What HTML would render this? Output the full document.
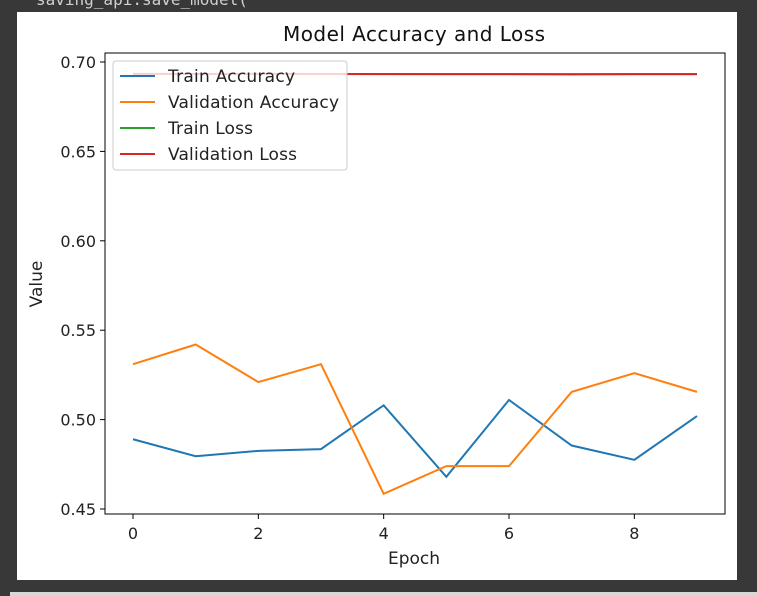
<!DOCTYPE html>
<html><head><meta charset="utf-8"><style>
body{margin:0;background:#383838;width:757px;height:596px;overflow:hidden;position:relative;font-family:"DejaVu Sans","Liberation Sans",sans-serif}
#code{position:absolute;left:36px;top:-10px;color:#cfcfcf;font:16px "DejaVu Sans Mono","Liberation Mono",monospace}
#card{position:absolute;left:17px;top:12px;width:720px;height:568px;background:#fff}
#strip{position:absolute;left:10px;top:592px;width:747px;height:4px;background:#d8d8d8}
</style></head><body>
<div id="code">saving_api.save_model(</div>
<div id="card"></div>
<div id="strip"></div>
<svg id="chart" width="757" height="596" style="position:absolute;left:0;top:0"></svg>
<script>
const epochs=[0,1,2,3,4,5,6,7,8,9];
const trainAcc=[0.489,0.4795,0.4825,0.4835,0.508,0.468,0.511,0.4855,0.4775,0.502];
const valAcc=[0.531,0.542,0.521,0.531,0.4585,0.474,0.474,0.5155,0.526,0.5155];
const trainLoss=[0.6934,0.6933,0.6934,0.6933,0.6933,0.6932,0.6932,0.6932,0.6932,0.6932];
const valLoss=[0.6933,0.6933,0.6933,0.6933,0.6932,0.6932,0.6932,0.6931,0.6932,0.6932];
const yTicks=[0.45,0.50,0.55,0.60,0.65,0.70];
const yTickLabels=["0.45","0.50","0.55","0.60","0.65","0.70"];
const xTicks=[0,2,4,6,8];
const NS="http://www.w3.org/2000/svg";
const svg=document.getElementById('chart');
const L=105,R=725,T=53,B=514;
const X=v=>133+(v-0)*(697-133)/9;
const Y=v=>509-(v-0.45)*(509-62)/0.25;
function mk(t,a,p){const e=document.createElementNS(NS,t);for(const k in a)e.setAttribute(k,a[k]);(p||svg).appendChild(e);return e;}
const font='"DejaVu Sans","Liberation Sans",sans-serif';
const frame=mk('rect',{x:L,y:T,width:R-L,height:B-T,fill:'none',stroke:'#000','stroke-width':1});


yTicks.forEach((v,i)=>{
 const tk=mk('line',{x1:L-5,x2:L,y1:Y(v),y2:Y(v),stroke:'#000'});
 
 
 const t=mk('text',{x:L-9,y:Y(v)+6,'text-anchor':'end','font-size':16,'font-family':font,fill:'#222'});
 t.textContent=yTickLabels[i];
 
 
});
xTicks.forEach(v=>{
 const tk=mk('line',{x1:X(v),x2:X(v),y1:B,y2:B+5,stroke:'#000'});
 
 
 const t=mk('text',{x:X(v),y:B+25,'text-anchor':'middle','font-size':16,'font-family':font,fill:'#222'});
 t.textContent=String(v);
 
 
});
const series=[[trainAcc,'#1f77b4','train-accuracy-line'],[valAcc,'#ff7f0e','validation-accuracy-line'],[trainLoss,'#2ca02c','train-loss-line'],[valLoss,'#d62728','validation-loss-line']];
series.forEach(s=>{
 const p=mk('polyline',{points:s[0].map((v,i)=>X(epochs[i])+','+Y(v)).join(' '),fill:'none',stroke:s[1],'stroke-width':2});
 
 
});
const title=mk('text',{x:414,y:41,'text-anchor':'middle','font-size':20,'font-family':font,fill:'#111',textLength:262});
title.textContent='Model Accuracy and Loss';


const xl=mk('text',{x:414,y:564,'text-anchor':'middle','font-size':17,'font-family':font,fill:'#222'});
xl.textContent='Epoch';


const yl=mk('text',{x:0,y:0,'text-anchor':'middle','font-size':17,'font-family':font,fill:'#222',transform:'translate(42,284) rotate(-90)'});
yl.textContent='Value';


const lg=mk('g',{});


mk('rect',{x:113,y:61,width:234,height:109,rx:3,fill:'#fff','fill-opacity':0.8,stroke:'#ccc'},lg);
const names=['Train Accuracy','Validation Accuracy','Train Loss','Validation Loss'];
const widths=[127,171,85,129];
names.forEach((n,i)=>{
 const y=76+i*26;
 const ln=mk('line',{x1:120,x2:155,y1:y,y2:y,stroke:series[i][1],'stroke-width':2},lg);
 
 
 const t=mk('text',{x:168,y:y+6,'font-size':17,'font-family':font,fill:'#222',textLength:widths[i]},lg);
 t.textContent=n;
 
 
});
</script>
</body></html>
